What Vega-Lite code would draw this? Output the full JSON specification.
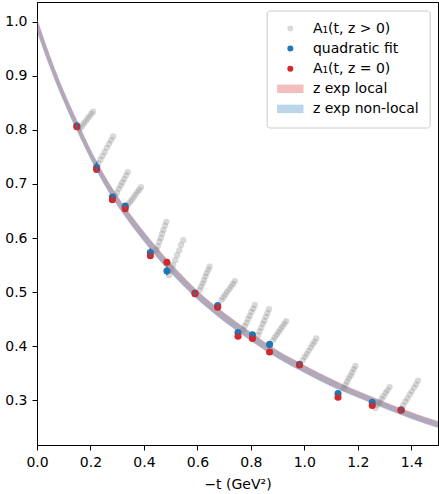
{
  "$schema": "https://vega.github.io/schema/vega-lite/v6.json",
  "width": 401,
  "height": 443,
  "autosize": {"type": "none"},
  "padding": {"left": 37, "top": 2, "right": 1, "bottom": 49},
  "config": {
    "view": {"stroke": "black", "strokeWidth": 1},
    "font": "DejaVu Sans",
    "axis": {"grid": false, "labelFlush": false, "domainColor": "black", "tickColor": "black", "labelColor": "black", "labelFontSize": 14, "labelFont": "DejaVu Sans", "tickSize": 5, "labelPadding": 5, "titleFontSize": 14, "titleFont": "DejaVu Sans", "titleFontWeight": "normal", "titleColor": "black"},
    "legend": {
      "title": null, "orient": "none", "legendX": 229.7, "legendY": 8.5,
      "fillColor": "rgba(255,255,255,0.8)", "strokeColor": "#cccccc", "cornerRadius": 3, "padding": 11,
      "symbolSize": 36, "symbolOffset": 5.6, "labelOffset": 15.6, "rowPadding": 6.1, "symbolStrokeWidth": 0,
      "labelFontSize": 14, "labelFont": "DejaVu Sans", "labelColor": "black", "labelLimit": 300
    }
  },
  "datasets": {
    "band": [
      {"t": 0.0, "lo": 0.983, "hi": 1.007, "s": "z exp local"},
      {"t": 0.05, "lo": 0.914, "hi": 0.936, "s": "z exp local"},
      {"t": 0.1, "lo": 0.853, "hi": 0.873, "s": "z exp local"},
      {"t": 0.15, "lo": 0.798, "hi": 0.818, "s": "z exp local"},
      {"t": 0.2, "lo": 0.747, "hi": 0.765, "s": "z exp local"},
      {"t": 0.25, "lo": 0.701, "hi": 0.719, "s": "z exp local"},
      {"t": 0.3, "lo": 0.661, "hi": 0.679, "s": "z exp local"},
      {"t": 0.35, "lo": 0.626, "hi": 0.644, "s": "z exp local"},
      {"t": 0.4, "lo": 0.594, "hi": 0.612, "s": "z exp local"},
      {"t": 0.45, "lo": 0.564, "hi": 0.582, "s": "z exp local"},
      {"t": 0.5, "lo": 0.536, "hi": 0.554, "s": "z exp local"},
      {"t": 0.6, "lo": 0.487, "hi": 0.503, "s": "z exp local"},
      {"t": 0.7, "lo": 0.446, "hi": 0.462, "s": "z exp local"},
      {"t": 0.8, "lo": 0.410, "hi": 0.426, "s": "z exp local"},
      {"t": 0.9, "lo": 0.378, "hi": 0.392, "s": "z exp local"},
      {"t": 1.0, "lo": 0.351, "hi": 0.365, "s": "z exp local"},
      {"t": 1.1, "lo": 0.326, "hi": 0.340, "s": "z exp local"},
      {"t": 1.2, "lo": 0.305, "hi": 0.317, "s": "z exp local"},
      {"t": 1.3, "lo": 0.285, "hi": 0.297, "s": "z exp local"},
      {"t": 1.4, "lo": 0.266, "hi": 0.278, "s": "z exp local"},
      {"t": 1.5, "lo": 0.249, "hi": 0.261, "s": "z exp local"},
      {"t": 0.0, "lo": 0.982, "hi": 1.006, "s": "z exp non-local"},
      {"t": 0.05, "lo": 0.913, "hi": 0.935, "s": "z exp non-local"},
      {"t": 0.1, "lo": 0.852, "hi": 0.872, "s": "z exp non-local"},
      {"t": 0.15, "lo": 0.797, "hi": 0.817, "s": "z exp non-local"},
      {"t": 0.2, "lo": 0.746, "hi": 0.764, "s": "z exp non-local"},
      {"t": 0.25, "lo": 0.700, "hi": 0.718, "s": "z exp non-local"},
      {"t": 0.3, "lo": 0.660, "hi": 0.678, "s": "z exp non-local"},
      {"t": 0.35, "lo": 0.625, "hi": 0.643, "s": "z exp non-local"},
      {"t": 0.4, "lo": 0.593, "hi": 0.611, "s": "z exp non-local"},
      {"t": 0.45, "lo": 0.563, "hi": 0.581, "s": "z exp non-local"},
      {"t": 0.5, "lo": 0.535, "hi": 0.553, "s": "z exp non-local"},
      {"t": 0.6, "lo": 0.486, "hi": 0.502, "s": "z exp non-local"},
      {"t": 0.7, "lo": 0.445, "hi": 0.461, "s": "z exp non-local"},
      {"t": 0.8, "lo": 0.409, "hi": 0.425, "s": "z exp non-local"},
      {"t": 0.9, "lo": 0.377, "hi": 0.391, "s": "z exp non-local"},
      {"t": 1.0, "lo": 0.350, "hi": 0.364, "s": "z exp non-local"},
      {"t": 1.1, "lo": 0.325, "hi": 0.339, "s": "z exp non-local"},
      {"t": 1.2, "lo": 0.304, "hi": 0.316, "s": "z exp non-local"},
      {"t": 1.3, "lo": 0.284, "hi": 0.296, "s": "z exp non-local"},
      {"t": 1.4, "lo": 0.265, "hi": 0.277, "s": "z exp non-local"},
      {"t": 1.5, "lo": 0.248, "hi": 0.260, "s": "z exp non-local"}
    ],
    "grey": [
      {"t": 0.161, "y": 0.803, "s": "A₁(t, z > 0)"}, {"t": 0.168, "y": 0.807, "s": "A₁(t, z > 0)"}, {"t": 0.175, "y": 0.812, "s": "A₁(t, z > 0)"}, {"t": 0.182, "y": 0.816, "s": "A₁(t, z > 0)"}, {"t": 0.189, "y": 0.821, "s": "A₁(t, z > 0)"}, {"t": 0.196, "y": 0.825, "s": "A₁(t, z > 0)"}, {"t": 0.203, "y": 0.830, "s": "A₁(t, z > 0)"}, {"t": 0.210, "y": 0.834, "s": "A₁(t, z > 0)"},
      {"t": 0.229, "y": 0.738, "s": "A₁(t, z > 0)"}, {"t": 0.237, "y": 0.745, "s": "A₁(t, z > 0)"}, {"t": 0.245, "y": 0.752, "s": "A₁(t, z > 0)"}, {"t": 0.253, "y": 0.759, "s": "A₁(t, z > 0)"}, {"t": 0.261, "y": 0.767, "s": "A₁(t, z > 0)"}, {"t": 0.269, "y": 0.774, "s": "A₁(t, z > 0)"}, {"t": 0.277, "y": 0.781, "s": "A₁(t, z > 0)"}, {"t": 0.285, "y": 0.788, "s": "A₁(t, z > 0)"},
      {"t": 0.292, "y": 0.678, "s": "A₁(t, z > 0)"}, {"t": 0.299, "y": 0.684, "s": "A₁(t, z > 0)"}, {"t": 0.306, "y": 0.691, "s": "A₁(t, z > 0)"}, {"t": 0.313, "y": 0.697, "s": "A₁(t, z > 0)"}, {"t": 0.319, "y": 0.703, "s": "A₁(t, z > 0)"}, {"t": 0.326, "y": 0.709, "s": "A₁(t, z > 0)"}, {"t": 0.333, "y": 0.716, "s": "A₁(t, z > 0)"}, {"t": 0.340, "y": 0.722, "s": "A₁(t, z > 0)"},
      {"t": 0.340, "y": 0.661, "s": "A₁(t, z > 0)"}, {"t": 0.347, "y": 0.666, "s": "A₁(t, z > 0)"}, {"t": 0.354, "y": 0.670, "s": "A₁(t, z > 0)"}, {"t": 0.361, "y": 0.675, "s": "A₁(t, z > 0)"}, {"t": 0.368, "y": 0.680, "s": "A₁(t, z > 0)"}, {"t": 0.375, "y": 0.685, "s": "A₁(t, z > 0)"}, {"t": 0.382, "y": 0.689, "s": "A₁(t, z > 0)"}, {"t": 0.389, "y": 0.694, "s": "A₁(t, z > 0)"},
      {"t": 0.447, "y": 0.578, "s": "A₁(t, z > 0)"}, {"t": 0.452, "y": 0.585, "s": "A₁(t, z > 0)"}, {"t": 0.458, "y": 0.593, "s": "A₁(t, z > 0)"}, {"t": 0.463, "y": 0.600, "s": "A₁(t, z > 0)"}, {"t": 0.468, "y": 0.608, "s": "A₁(t, z > 0)"}, {"t": 0.473, "y": 0.615, "s": "A₁(t, z > 0)"}, {"t": 0.479, "y": 0.623, "s": "A₁(t, z > 0)"}, {"t": 0.484, "y": 0.630, "s": "A₁(t, z > 0)"},
      {"t": 0.494, "y": 0.531, "s": "A₁(t, z > 0)"}, {"t": 0.502, "y": 0.540, "s": "A₁(t, z > 0)"}, {"t": 0.509, "y": 0.550, "s": "A₁(t, z > 0)"}, {"t": 0.517, "y": 0.559, "s": "A₁(t, z > 0)"}, {"t": 0.524, "y": 0.568, "s": "A₁(t, z > 0)"}, {"t": 0.532, "y": 0.577, "s": "A₁(t, z > 0)"}, {"t": 0.539, "y": 0.587, "s": "A₁(t, z > 0)"}, {"t": 0.547, "y": 0.596, "s": "A₁(t, z > 0)"},
      {"t": 0.609, "y": 0.504, "s": "A₁(t, z > 0)"}, {"t": 0.614, "y": 0.510, "s": "A₁(t, z > 0)"}, {"t": 0.620, "y": 0.516, "s": "A₁(t, z > 0)"}, {"t": 0.625, "y": 0.522, "s": "A₁(t, z > 0)"}, {"t": 0.630, "y": 0.529, "s": "A₁(t, z > 0)"}, {"t": 0.635, "y": 0.535, "s": "A₁(t, z > 0)"}, {"t": 0.641, "y": 0.541, "s": "A₁(t, z > 0)"}, {"t": 0.646, "y": 0.547, "s": "A₁(t, z > 0)"},
      {"t": 0.690, "y": 0.485, "s": "A₁(t, z > 0)"}, {"t": 0.697, "y": 0.490, "s": "A₁(t, z > 0)"}, {"t": 0.704, "y": 0.495, "s": "A₁(t, z > 0)"}, {"t": 0.711, "y": 0.500, "s": "A₁(t, z > 0)"}, {"t": 0.719, "y": 0.505, "s": "A₁(t, z > 0)"}, {"t": 0.726, "y": 0.510, "s": "A₁(t, z > 0)"}, {"t": 0.733, "y": 0.515, "s": "A₁(t, z > 0)"}, {"t": 0.740, "y": 0.520, "s": "A₁(t, z > 0)"},
      {"t": 0.771, "y": 0.430, "s": "A₁(t, z > 0)"}, {"t": 0.777, "y": 0.437, "s": "A₁(t, z > 0)"}, {"t": 0.784, "y": 0.443, "s": "A₁(t, z > 0)"}, {"t": 0.790, "y": 0.450, "s": "A₁(t, z > 0)"}, {"t": 0.796, "y": 0.456, "s": "A₁(t, z > 0)"}, {"t": 0.802, "y": 0.463, "s": "A₁(t, z > 0)"}, {"t": 0.809, "y": 0.469, "s": "A₁(t, z > 0)"}, {"t": 0.815, "y": 0.476, "s": "A₁(t, z > 0)"},
      {"t": 0.827, "y": 0.420, "s": "A₁(t, z > 0)"}, {"t": 0.833, "y": 0.427, "s": "A₁(t, z > 0)"}, {"t": 0.839, "y": 0.434, "s": "A₁(t, z > 0)"}, {"t": 0.845, "y": 0.441, "s": "A₁(t, z > 0)"}, {"t": 0.850, "y": 0.447, "s": "A₁(t, z > 0)"}, {"t": 0.856, "y": 0.454, "s": "A₁(t, z > 0)"}, {"t": 0.862, "y": 0.461, "s": "A₁(t, z > 0)"}, {"t": 0.868, "y": 0.468, "s": "A₁(t, z > 0)"},
      {"t": 0.883, "y": 0.411, "s": "A₁(t, z > 0)"}, {"t": 0.890, "y": 0.416, "s": "A₁(t, z > 0)"}, {"t": 0.897, "y": 0.421, "s": "A₁(t, z > 0)"}, {"t": 0.904, "y": 0.426, "s": "A₁(t, z > 0)"}, {"t": 0.911, "y": 0.431, "s": "A₁(t, z > 0)"}, {"t": 0.918, "y": 0.436, "s": "A₁(t, z > 0)"}, {"t": 0.925, "y": 0.441, "s": "A₁(t, z > 0)"}, {"t": 0.932, "y": 0.446, "s": "A₁(t, z > 0)"},
      {"t": 0.995, "y": 0.374, "s": "A₁(t, z > 0)"}, {"t": 1.002, "y": 0.380, "s": "A₁(t, z > 0)"}, {"t": 1.009, "y": 0.385, "s": "A₁(t, z > 0)"}, {"t": 1.016, "y": 0.391, "s": "A₁(t, z > 0)"}, {"t": 1.024, "y": 0.397, "s": "A₁(t, z > 0)"}, {"t": 1.031, "y": 0.403, "s": "A₁(t, z > 0)"}, {"t": 1.038, "y": 0.408, "s": "A₁(t, z > 0)"}, {"t": 1.045, "y": 0.414, "s": "A₁(t, z > 0)"},
      {"t": 1.148, "y": 0.322, "s": "A₁(t, z > 0)"}, {"t": 1.154, "y": 0.328, "s": "A₁(t, z > 0)"}, {"t": 1.160, "y": 0.334, "s": "A₁(t, z > 0)"}, {"t": 1.166, "y": 0.340, "s": "A₁(t, z > 0)"}, {"t": 1.173, "y": 0.345, "s": "A₁(t, z > 0)"}, {"t": 1.179, "y": 0.351, "s": "A₁(t, z > 0)"}, {"t": 1.185, "y": 0.357, "s": "A₁(t, z > 0)"}, {"t": 1.191, "y": 0.363, "s": "A₁(t, z > 0)"},
      {"t": 1.266, "y": 0.285, "s": "A₁(t, z > 0)"}, {"t": 1.274, "y": 0.291, "s": "A₁(t, z > 0)"}, {"t": 1.281, "y": 0.296, "s": "A₁(t, z > 0)"}, {"t": 1.289, "y": 0.302, "s": "A₁(t, z > 0)"}, {"t": 1.296, "y": 0.307, "s": "A₁(t, z > 0)"}, {"t": 1.304, "y": 0.313, "s": "A₁(t, z > 0)"}, {"t": 1.311, "y": 0.318, "s": "A₁(t, z > 0)"}, {"t": 1.319, "y": 0.324, "s": "A₁(t, z > 0)"},
      {"t": 1.370, "y": 0.290, "s": "A₁(t, z > 0)"}, {"t": 1.378, "y": 0.297, "s": "A₁(t, z > 0)"}, {"t": 1.386, "y": 0.303, "s": "A₁(t, z > 0)"}, {"t": 1.394, "y": 0.310, "s": "A₁(t, z > 0)"}, {"t": 1.402, "y": 0.316, "s": "A₁(t, z > 0)"}, {"t": 1.410, "y": 0.323, "s": "A₁(t, z > 0)"}, {"t": 1.418, "y": 0.329, "s": "A₁(t, z > 0)"}, {"t": 1.425, "y": 0.336, "s": "A₁(t, z > 0)"}
    ],
    "fit": [
      {"t": 0.149, "y": 0.808, "lo": 0.802, "hi": 0.814, "s": "quadratic fit"},
      {"t": 0.223, "y": 0.731, "lo": 0.721, "hi": 0.741, "s": "quadratic fit"},
      {"t": 0.282, "y": 0.676, "lo": 0.671, "hi": 0.681, "s": "quadratic fit"},
      {"t": 0.330, "y": 0.659, "lo": 0.654, "hi": 0.664, "s": "quadratic fit"},
      {"t": 0.424, "y": 0.573, "lo": 0.565, "hi": 0.581, "s": "quadratic fit"},
      {"t": 0.486, "y": 0.539, "lo": 0.531, "hi": 0.547, "s": "quadratic fit"},
      {"t": 0.591, "y": 0.498, "lo": 0.494, "hi": 0.502, "s": "quadratic fit"},
      {"t": 0.676, "y": 0.475, "lo": 0.470, "hi": 0.480, "s": "quadratic fit"},
      {"t": 0.752, "y": 0.425, "lo": 0.420, "hi": 0.430, "s": "quadratic fit"},
      {"t": 0.806, "y": 0.421, "lo": 0.416, "hi": 0.426, "s": "quadratic fit"},
      {"t": 0.870, "y": 0.403, "lo": 0.399, "hi": 0.407, "s": "quadratic fit"},
      {"t": 0.982, "y": 0.366, "lo": 0.362, "hi": 0.370, "s": "quadratic fit"},
      {"t": 1.126, "y": 0.312, "lo": 0.307, "hi": 0.317, "s": "quadratic fit"},
      {"t": 1.254, "y": 0.296, "lo": 0.291, "hi": 0.301, "s": "quadratic fit"},
      {"t": 1.362, "y": 0.282, "lo": 0.278, "hi": 0.286, "s": "quadratic fit"}
    ],
    "z0": [
      {"t": 0.149, "y": 0.806, "s": "A₁(t, z = 0)"},
      {"t": 0.223, "y": 0.727, "s": "A₁(t, z = 0)"},
      {"t": 0.282, "y": 0.671, "s": "A₁(t, z = 0)"},
      {"t": 0.330, "y": 0.654, "s": "A₁(t, z = 0)"},
      {"t": 0.424, "y": 0.567, "s": "A₁(t, z = 0)"},
      {"t": 0.486, "y": 0.555, "s": "A₁(t, z = 0)"},
      {"t": 0.591, "y": 0.497, "s": "A₁(t, z = 0)"},
      {"t": 0.676, "y": 0.472, "s": "A₁(t, z = 0)"},
      {"t": 0.752, "y": 0.418, "s": "A₁(t, z = 0)"},
      {"t": 0.806, "y": 0.414, "s": "A₁(t, z = 0)"},
      {"t": 0.870, "y": 0.389, "s": "A₁(t, z = 0)"},
      {"t": 0.982, "y": 0.365, "s": "A₁(t, z = 0)"},
      {"t": 1.126, "y": 0.305, "s": "A₁(t, z = 0)"},
      {"t": 1.254, "y": 0.290, "s": "A₁(t, z = 0)"},
      {"t": 1.362, "y": 0.281, "s": "A₁(t, z = 0)"}
    ]
  },
  "encoding": {
    "x": {"field": "t", "type": "quantitative", "scale": {"domain": [0, 1.5], "nice": false, "zero": false}, "axis": {"values": [0, 0.2, 0.4, 0.6, 0.8, 1.0, 1.2, 1.4], "format": ".1f", "title": "−t (GeV²)", "titlePadding": 8}},
    "y": {"field": "y", "type": "quantitative", "scale": {"domain": [0.2167, 1.037], "nice": false, "zero": false}, "axis": {"values": [0.3, 0.4, 0.5, 0.6, 0.7, 0.8, 0.9, 1.0], "format": ".1f", "title": null}},
    "color": {
      "field": "s", "type": "nominal",
      "scale": {"domain": ["A₁(t, z > 0)", "quadratic fit", "A₁(t, z = 0)", "z exp local", "z exp non-local"], "range": ["#808080", "#1f77b4", "#d62728", "#d62728", "#1f77b4"]}
    },
    "opacity": {
      "field": "s", "type": "nominal",
      "scale": {"type": "ordinal", "domain": ["A₁(t, z > 0)", "quadratic fit", "A₁(t, z = 0)", "z exp local", "z exp non-local"], "range": [0.3, 1, 1, 0.3, 0.3]}
    }
  },
  "layer": [
    {
      "data": {"name": "band"},
      "mark": {"type": "area", "interpolate": "monotone", "clip": true},
      "encoding": {
        "y": {"field": "lo", "type": "quantitative"},
        "y2": {"field": "hi"}
      }
    },
    {
      "data": {"name": "grey"},
      "mark": {"type": "point", "filled": true, "size": 40},
      "encoding": {
        "shape": {"field": "s", "type": "nominal", "scale": {"domain": ["A₁(t, z > 0)", "quadratic fit", "A₁(t, z = 0)", "z exp local", "z exp non-local"], "range": ["circle", "circle", "circle", "M-4.4,-1.4H4.4V1.4H-4.4Z", "M-4.4,-1.4H4.4V1.4H-4.4Z"]}}
      }
    },
    {
      "data": {"name": "fit"},
      "mark": {"type": "point", "filled": true, "size": 50},
      "encoding": {"shape": {"field": "s", "type": "nominal"}}
    },
    {
      "data": {"name": "z0"},
      "mark": {"type": "point", "filled": true, "size": 50},
      "encoding": {"shape": {"field": "s", "type": "nominal"}}
    },
    {
      "data": {"name": "fit"},
      "mark": {"type": "rule", "color": "#1f77b4", "strokeWidth": 1.5},
      "encoding": {
        "y": {"field": "lo", "type": "quantitative"},
        "y2": {"field": "hi"},
        "color": {"value": "#1f77b4"},
        "opacity": {"value": 1}
      }
    }
  ]
}
